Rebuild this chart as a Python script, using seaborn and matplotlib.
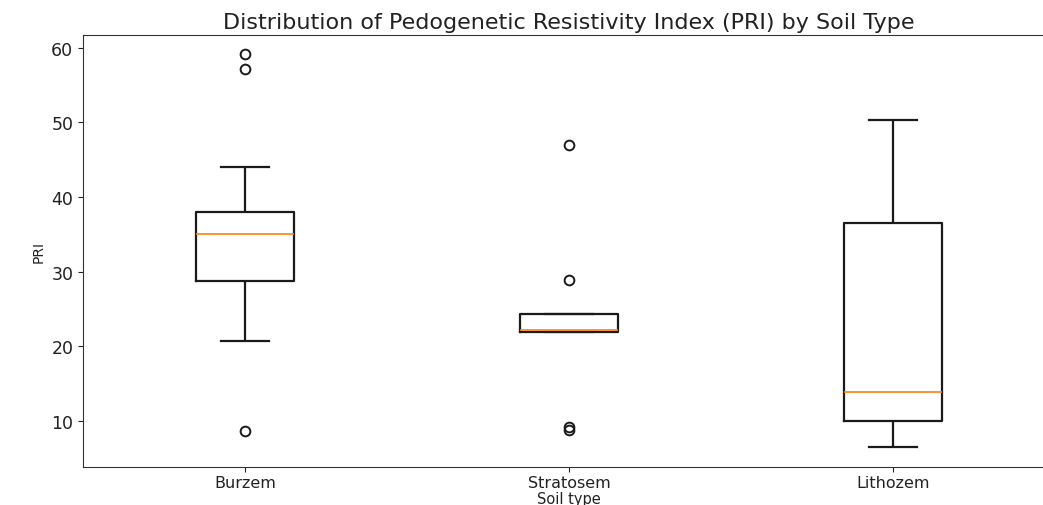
import numpy as np
import pandas as pd
import matplotlib
matplotlib.use("Agg")
import matplotlib.pyplot as plt
import seaborn as sns

soil_types = ["Burzem", "Stratosem", "Lithozem"]
burzem = [8.56, 20.7, 25.0, 28.7, 31.0, 33.5, 35.0, 36.2, 37.0, 38.0, 44.0, 57.2, 59.2]
stratosem = [8.7, 9.2, 21.9, 21.9, 22.0, 22.1, 22.2, 23.0, 24.0, 24.3, 24.3, 28.9, 47.0]
lithozem = [6.47, 8.5, 10.0, 12.0, 13.85, 25.0, 36.5, 44.0, 50.3]

df = pd.DataFrame({
    "Soil type": ["Burzem"] * len(burzem) + ["Stratosem"] * len(stratosem) + ["Lithozem"] * len(lithozem),
    "PRI": burzem + stratosem + lithozem,
})

W, H = 1043, 506
fig = plt.figure(figsize=(W / 100, H / 100), dpi=100)
ax = fig.add_axes([83 / W, 1 - 468 / H, 972 / W, (468 - 36) / H])

sns.boxplot(
    data=df, x="Soil type", y="PRI", order=soil_types, ax=ax,
    fill=False, color="#1a1a1a", width=0.3, linewidth=1.6, whis=1.5,
    medianprops=dict(color="#ff7f0e", linewidth=1.2),
    flierprops=dict(marker="o", markerfacecolor="none", markeredgecolor="#1a1a1a",
                    markersize=7, markeredgewidth=1.4),
)

ax.set_ylim(3.8, 61.7)
ax.set_yticks([10, 20, 30, 40, 50, 60])
ax.tick_params(axis="y", labelsize=12.5, colors="#222222")
ax.tick_params(axis="x", labelsize=11.5, colors="#222222", pad=2)
ax.set_title("Distribution of Pedogenetic Resistivity Index (PRI) by Soil Type",
             fontsize=16, color="#222222", pad=5)
ax.set_xlabel("Soil type", fontsize=10.5, labelpad=1, color="#222222")
ax.set_ylabel("PRI", fontsize=10, color="#222222")
for s in ax.spines.values():
    s.set_visible(True)
    s.set_color("#333333")

fig.savefig("out.png", dpi=100)
